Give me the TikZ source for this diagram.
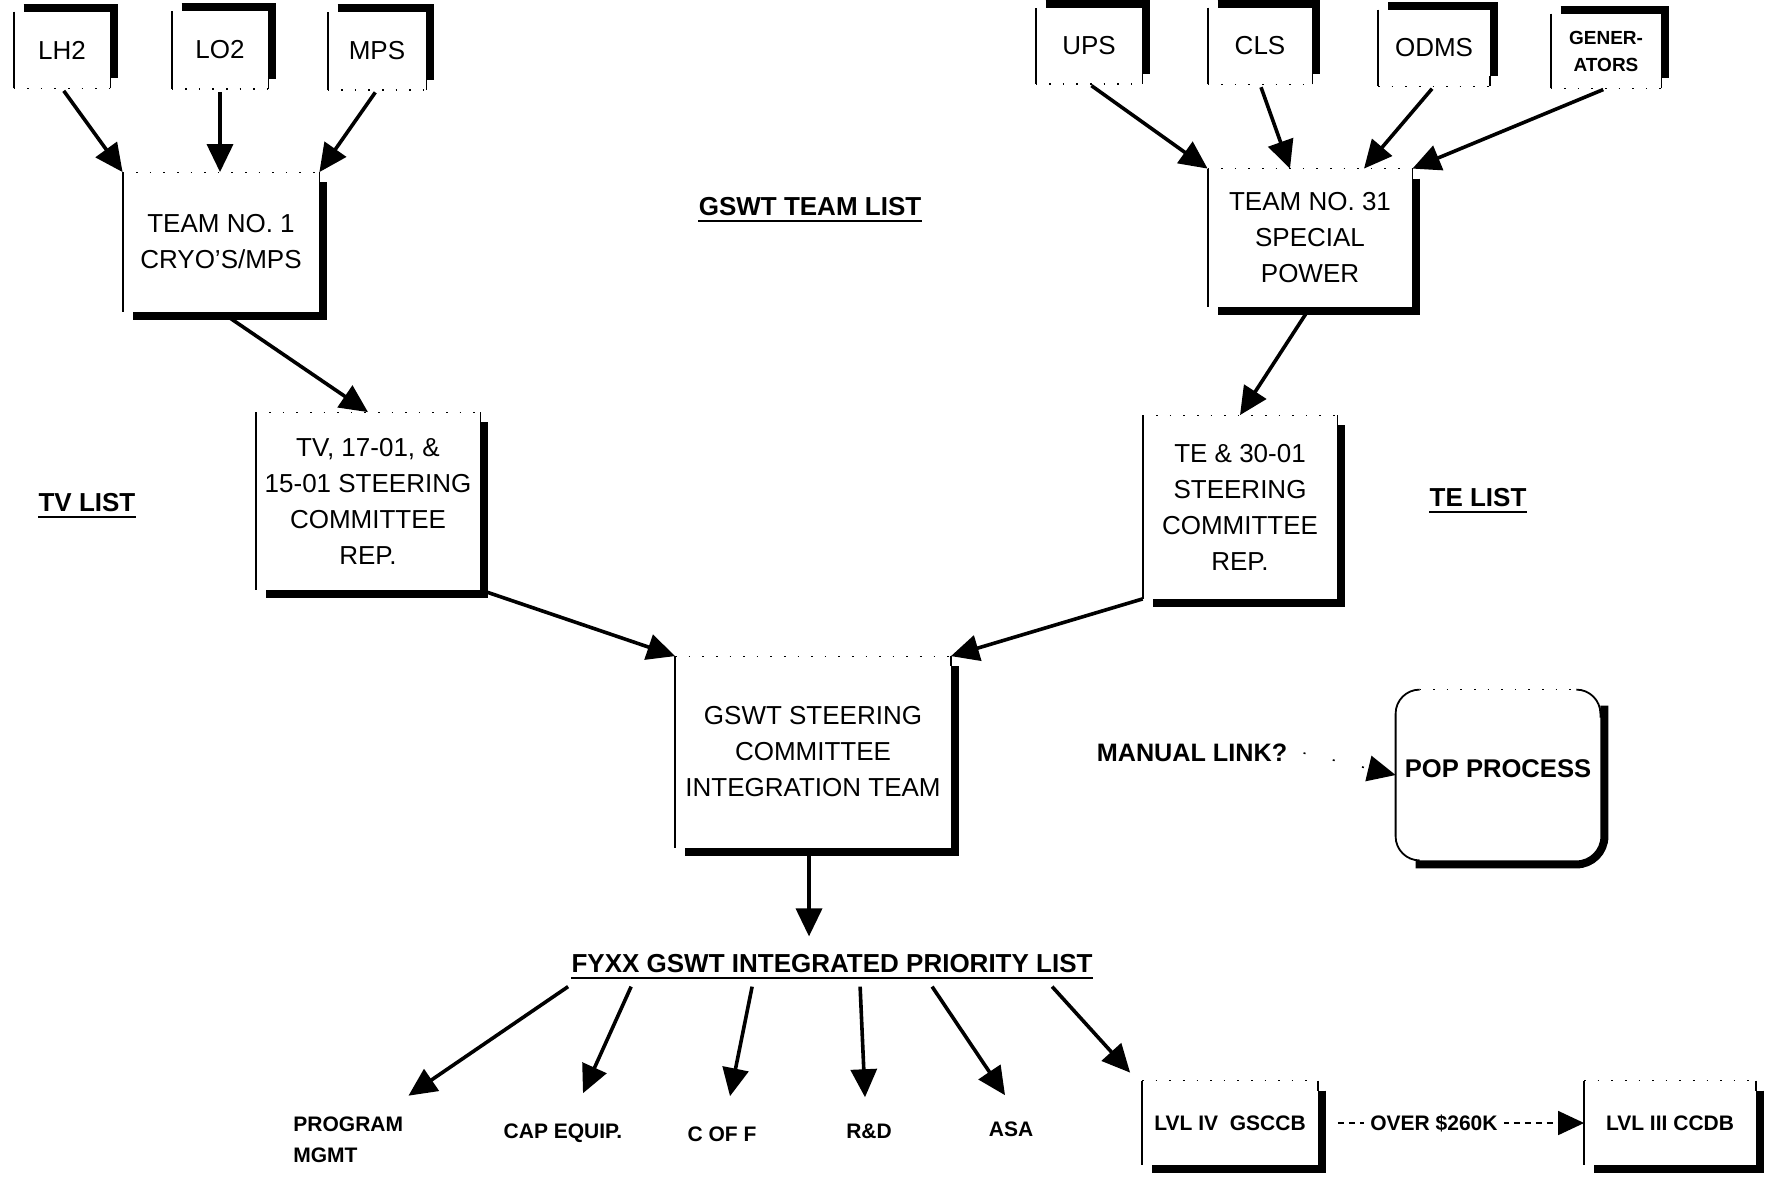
\documentclass[tikz,border=0pt]{standalone}
\usepackage{fontspec}
\setmainfont{Liberation Sans}
\usetikzlibrary{arrows.meta}
\newcommand{\bxfont}{\fontsize{13pt}{18pt}\selectfont}
\newcommand{\lbfont}{\bfseries\fontsize{10.5pt}{15.5pt}\selectfont}
\newcommand{\ttlfont}{\bfseries\fontsize{13pt}{16pt}\selectfont}
\newcommand{\boxdown}[1]{%
  \draw[thinline] (#1.north west) -- (#1.south west);
  \draw[dotline] (#1.north west) -- (#1.north east);
  \draw[thinline] (#1.north east) -- ([yshift=-5pt]#1.north east);
  \draw[shadowline] ([xshift=2pt,yshift=-5pt]#1.north east) -- ([xshift=2pt,yshift=-2pt]#1.south east) -- ([xshift=5pt,yshift=-2pt]#1.south west);
}
\newcommand{\boxup}[1]{%
  \draw[thinline] (#1.north west) -- (#1.south west);
  \draw[dotline] (#1.south west) -- (#1.south east);
  \draw[thinline] (#1.south east) -- ([yshift=5pt]#1.south east);
  \draw[shadowline] ([xshift=5pt,yshift=2pt]#1.north west) -- ([xshift=2pt,yshift=2pt]#1.north east) -- ([xshift=2pt,yshift=5pt]#1.south east);
}
\begin{document}
\begin{tikzpicture}[x=0.5pt,y=-0.5pt,
  bx/.style={draw=none, inner sep=0pt, align=center, font=\bxfont},
  ttl/.style={inner sep=0pt, align=center, font=\ttlfont},
  lbl/.style={inner sep=0pt, align=center, font=\lbfont},
  thinline/.style={line width=0.9pt},
  dotline/.style={line width=0.6pt, dash pattern=on 0.8pt off 6pt},
  shadowline/.style={line width=4pt, line join=miter},
  arr/.style={line width=1.8pt, -{Triangle[length=14pt,width=13pt]}},
  ulline/.style={line width=1.1pt}]
\path[use as bounding box, fill=white] (0,0) rectangle (1775,1180);

% top-left sources
\node[bx, minimum width=48pt, minimum height=38pt] (lh2) at (62,50) {LH2};
\node[bx, minimum width=48pt, minimum height=38.5pt] (lo2) at (220,50) {LO2};
\node[bx, minimum width=49pt, minimum height=38.5pt] (mps) at (377,51) {MPS};
% top-right sources
\node[bx, minimum width=53pt, minimum height=37.5pt] (ups) at (1089,46) {UPS};
\node[bx, minimum width=52pt, minimum height=38pt] (cls) at (1260,46) {CLS};
\node[bx, minimum width=55.5pt, minimum height=38pt] (odms) at (1434,48) {ODMS};
\node[bx, minimum width=55pt, minimum height=37pt, font=\bfseries\fontsize{9.5pt}{13.5pt}\selectfont] (gen) at (1606,51) {GENER-\\ATORS};

% teams and committees
\node[bx, minimum width=98pt, minimum height=69.5pt] (t1) at (221,242) {TEAM NO. 1\\CRYO'S/MPS};
\node[bx, minimum width=102pt, minimum height=69pt] (t31) at (1310,238) {TEAM NO. 31\\SPECIAL\\POWER};
\node[bx, minimum width=112pt, minimum height=88.5pt] (tv) at (368,501) {TV, 17-01, \&\\15-01 STEERING\\COMMITTEE\\REP.};
\node[bx, minimum width=97pt, minimum height=91.5pt] (te) at (1240,507) {TE \& 30-01\\STEERING\\COMMITTEE\\REP.};
\node[bx, minimum width=137.5pt, minimum height=95.5pt] (gs) at (813,752) {GSWT STEERING\\COMMITTEE\\INTEGRATION TEAM};
\node[bx, minimum width=102pt, minimum height=85pt, font=\bfseries\fontsize{12.8pt}{16pt}\selectfont] (pop) at (1498,775) {\raisebox{6pt}{POP PROCESS}};
\node[bx, minimum width=87.5pt, minimum height=42pt, font=\lbfont] (l4) at (1230,1123) {LVL IV\ \ GSCCB};
\node[bx, minimum width=85.5pt, minimum height=42pt, font=\lbfont] (l3) at (1670,1123) {LVL III CCDB};

% box outlines with shadows
\foreach \n in {t1,tv,t31,te,gs,l4,l3} {\boxdown{\n}}
\foreach \n in {lh2,lo2,mps,ups,cls,odms,gen} {\boxup{\n}}
% rounded POP box
\draw[thinline, rounded corners=12pt] ([xshift=12pt]pop.north west) -- (pop.north west) -- (pop.south west) -- ([xshift=12pt]pop.south west);
\draw[dotline] ([xshift=12pt]pop.north west) -- ([xshift=-12pt]pop.north east);
\draw[thinline, rounded corners=12pt] ([xshift=-12pt]pop.north east) -- (pop.north east) -- ([yshift=-14pt]pop.north east);
\draw[shadowline, rounded corners=14pt] ([xshift=2pt,yshift=-8pt]pop.north east) -- ([xshift=2pt,yshift=-2pt]pop.south east) -- ([xshift=10pt,yshift=-2pt]pop.south west);

% titles and labels
\node[ttl] (gtl) at (810,207) {GSWT TEAM LIST};
\node[ttl] (tvl) at (87,503) {TV LIST};
\node[ttl] (tel) at (1478,498) {TE LIST};
\node[ttl] (fy) at (832,964) {FYXX GSWT INTEGRATED PRIORITY LIST};
\foreach \n in {gtl,tvl,tel,fy} {\draw[ulline] ([yshift=-2.5pt]\n.base west) -- ([yshift=-2.5pt]\n.base east);}
\node[ttl, font=\bfseries\fontsize{12.6pt}{16pt}\selectfont] (ml) at (1192,753) {MANUAL LINK?};

\node[lbl, align=left, anchor=west] (pm) at (293,1140) {PROGRAM\\MGMT};
\node[lbl] (cap) at (563,1133) {CAP EQUIP.};
\node[lbl] (cof) at (722,1134) {C OF F};
\node[lbl] (rd) at (869,1131) {R\&D};
\node[lbl] (asa) at (1011,1129) {ASA};

% connectors: sources to teams
\draw[arr, shorten <=1.5pt] (lh2.south) -- (t1.north west);
\draw[arr, shorten <=1.5pt] (lo2.south) -- (lo2.south |- t1.north);
\draw[arr, shorten <=1.5pt] (mps.south) -- (t1.north east);
\draw[arr, shorten <=1.5pt] (ups.south) -- (t31.north west);
\draw[arr, shorten <=1.5pt] (cls.south) -- ([xshift=-10pt]t31.north);
\draw[arr, shorten <=1.5pt] (odms.south) -- ([xshift=27pt]t31.north);
\draw[arr, shorten <=1.5pt] (gen.south) -- (t31.north east);
% teams to committees
\draw[arr, shorten <=4pt] (t1.south) -- (tv.north);
\draw[arr, shorten <=4pt] (t31.south) -- (te.north);
\draw[arr] (tv.south east) -- (gs.north west);
\draw[arr] (te.south west) -- (gs.north east);
\draw[arr, shorten <=4pt, shorten >=9pt] ([xshift=-2pt]gs.south) -- ([xshift=-2pt]gs.south |- fy.north);
% manual link
\draw[line width=0.8pt, dash pattern=on 1pt off 14pt, -{Triangle[length=14pt,width=13pt]}] ([xshift=8pt]ml.east) -- (pop.west);

% priority list outputs
\path (fy.south west) ++(-3,13) coordinate (f1);
\path (fy.south west) ++(60,13) coordinate (f2);
\path (fy.south west) ++(181,13) coordinate (f3);
\path (fy.south west) ++(289,13) coordinate (f4);
\path (fy.south west) ++(361,13) coordinate (f5);
\path (fy.south west) ++(481,13) coordinate (f6);
\draw[arr] (f1) -- ([xshift=2.5pt,yshift=10.5pt]pm.north east);
\draw[arr] (f2) -- ([xshift=10pt,yshift=15pt]cap.north);
\draw[arr] (f3) -- ([xshift=4pt,yshift=15pt]cof.north);
\draw[arr] (f4) -- ([xshift=-2pt,yshift=13pt]rd.north);
\draw[arr] (f5) -- ([xshift=-3pt,yshift=13pt]asa.north);
\draw[arr] (f6) -- ([xshift=-6pt,yshift=4pt]l4.north west);

% over $260K
\draw[line width=0.8pt, dash pattern=on 3pt off 2.5pt, -{Triangle[length=13pt,width=12pt]}] ([xshift=10pt]l4.east) -- (l3.west)
  node[pos=0.39, fill=white, inner sep=3pt, font=\lbfont] (ov) {OVER \$260K};
\end{tikzpicture}
\end{document}
